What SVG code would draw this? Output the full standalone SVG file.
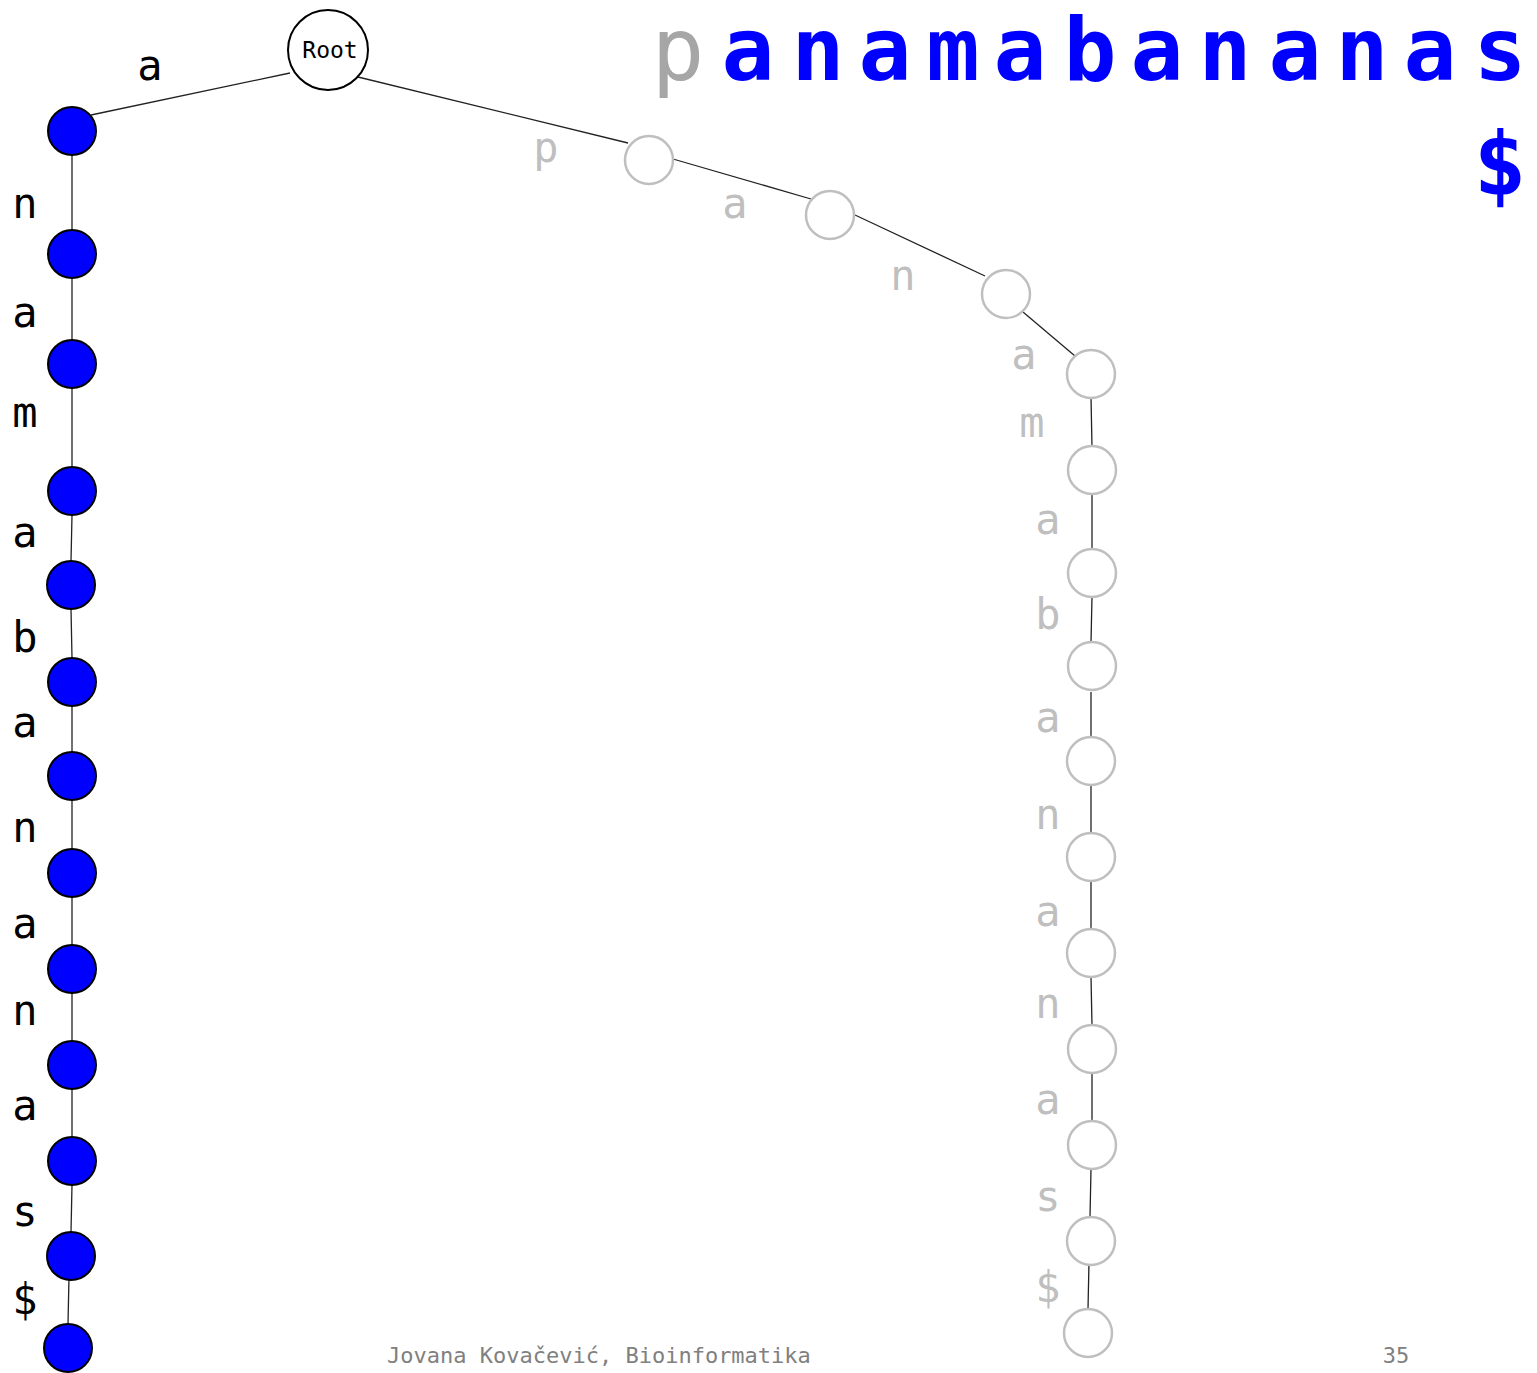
<svg xmlns="http://www.w3.org/2000/svg" width="1537" height="1373" viewBox="0 0 1537 1373">
<style>
.e{stroke:#222;stroke-width:1.3;fill:none}
.b{fill:#0000ff;stroke:#000;stroke-width:2}
.g{fill:#fff;stroke:#bfbfbf;stroke-width:2.5}
.lb{font-family:"DejaVu Sans Mono","Liberation Mono",monospace;font-size:42px;fill:#000;text-anchor:middle}
.lg{font-family:"DejaVu Sans Mono","Liberation Mono",monospace;font-size:42px;fill:#bfbfbf;text-anchor:middle}
.t{font-family:"DejaVu Sans Mono","Liberation Mono",monospace;font-size:88px;font-weight:bold;fill:#0000ff;text-anchor:middle}
.f{font-family:"DejaVu Sans Mono","Liberation Mono",monospace;font-size:22px;fill:#808080}
</style>
<rect width="1537" height="1373" fill="#fff"/>
<g id="title">
<text x="678" y="80" class="t" style="fill:#a6a6a6;font-weight:normal">p</text>
<text y="80" class="t"><tspan x="748">a</tspan><tspan x="818">n</tspan><tspan x="885">a</tspan><tspan x="953">m</tspan><tspan x="1020">a</tspan><tspan x="1090">b</tspan><tspan x="1157">a</tspan><tspan x="1225">n</tspan><tspan x="1295">a</tspan><tspan x="1362">n</tspan><tspan x="1430">a</tspan><tspan x="1500">s</tspan></text>
<text x="1500" y="194" class="t">$</text>
</g>
<g id="connectors">
<line class="e" x1="290" y1="73" x2="91" y2="115"/>
<line class="e" x1="358" y1="77" x2="628" y2="143"/>
<line class="e" x1="673" y1="159" x2="811" y2="199"/>
<line class="e" x1="855" y1="215" x2="985" y2="276"/>
<line class="e" x1="1023" y1="312" x2="1075" y2="356"/>
<line class="e" x1="1091" y1="397" x2="1092" y2="447"/>
<line class="e" x1="1092" y1="494" x2="1092" y2="549"/>
<line class="e" x1="1092" y1="597" x2="1091" y2="642"/>
<line class="e" x1="1091" y1="692" x2="1091" y2="737"/>
<line class="e" x1="1091" y1="785" x2="1091" y2="833"/>
<line class="e" x1="1091" y1="881" x2="1091" y2="929"/>
<line class="e" x1="1091" y1="977" x2="1092" y2="1025"/>
<line class="e" x1="1092" y1="1073" x2="1092" y2="1121"/>
<line class="e" x1="1091" y1="1169" x2="1090" y2="1217"/>
<line class="e" x1="1089" y1="1262" x2="1088" y2="1309"/>
<line class="e" x1="72" y1="155" x2="72" y2="230"/>
<line class="e" x1="72" y1="278" x2="72" y2="340"/>
<line class="e" x1="72" y1="388" x2="72" y2="467"/>
<line class="e" x1="72" y1="515" x2="71" y2="561"/>
<line class="e" x1="71" y1="609" x2="72" y2="658"/>
<line class="e" x1="72" y1="706" x2="72" y2="752"/>
<line class="e" x1="72" y1="800" x2="72" y2="849"/>
<line class="e" x1="72" y1="897" x2="72" y2="945"/>
<line class="e" x1="72" y1="993" x2="72" y2="1041"/>
<line class="e" x1="72" y1="1089" x2="72" y2="1137"/>
<line class="e" x1="72" y1="1185" x2="71" y2="1232"/>
<line class="e" x1="69" y1="1277" x2="68" y2="1324"/>
</g>
<g id="edge-labels">
<text x="150" y="80" class="lb">a</text>
<text x="25" y="218" class="lb">n</text>
<text x="25" y="327" class="lb">a</text>
<text x="25" y="427" class="lb">m</text>
<text x="25" y="547" class="lb">a</text>
<text x="25" y="652" class="lb">b</text>
<text x="25" y="737" class="lb">a</text>
<text x="25" y="842" class="lb">n</text>
<text x="25" y="938" class="lb">a</text>
<text x="25" y="1025" class="lb">n</text>
<text x="25" y="1120" class="lb">a</text>
<text x="25" y="1226" class="lb">s</text>
<text x="25" y="1314" class="lb">$</text>
<text x="546" y="162" class="lg">p</text>
<text x="735" y="218" class="lg">a</text>
<text x="903" y="290" class="lg">n</text>
<text x="1024" y="369" class="lg">a</text>
<text x="1032" y="437" class="lg">m</text>
<text x="1048" y="534" class="lg">a</text>
<text x="1048" y="629" class="lg">b</text>
<text x="1048" y="732" class="lg">a</text>
<text x="1048" y="829" class="lg">n</text>
<text x="1048" y="926" class="lg">a</text>
<text x="1048" y="1018" class="lg">n</text>
<text x="1048" y="1114" class="lg">a</text>
<text x="1048" y="1211" class="lg">s</text>
<text x="1048" y="1302" class="lg">$</text>
</g>
<g id="root"><circle cx="328" cy="50" r="40" fill="#fff" stroke="#000" stroke-width="2"/><text x="330" y="58" style="font-family:'DejaVu Sans Mono','Liberation Mono',monospace;font-size:23px;text-anchor:middle">Root</text></g>
<g id="blue-nodes">
<circle id="b1" class="b" cx="72" cy="131" r="24"/>
<circle id="b2" class="b" cx="72" cy="254" r="24"/>
<circle id="b3" class="b" cx="72" cy="364" r="24"/>
<circle id="b4" class="b" cx="72" cy="491" r="24"/>
<circle id="b5" class="b" cx="71" cy="585" r="24"/>
<circle id="b6" class="b" cx="72" cy="682" r="24"/>
<circle id="b7" class="b" cx="72" cy="776" r="24"/>
<circle id="b8" class="b" cx="72" cy="873" r="24"/>
<circle id="b9" class="b" cx="72" cy="969" r="24"/>
<circle id="b10" class="b" cx="72" cy="1065" r="24"/>
<circle id="b11" class="b" cx="72" cy="1161" r="24"/>
<circle id="b12" class="b" cx="71" cy="1256" r="24"/>
<circle id="b13" class="b" cx="68" cy="1348" r="24"/>
</g>
<g id="gray-nodes">
<circle id="g1" class="g" cx="649" cy="160" r="24"/>
<circle id="g2" class="g" cx="830" cy="215" r="24"/>
<circle id="g3" class="g" cx="1006" cy="294" r="24"/>
<circle id="g4" class="g" cx="1091" cy="374" r="24"/>
<circle id="g5" class="g" cx="1092" cy="470" r="24"/>
<circle id="g6" class="g" cx="1092" cy="573" r="24"/>
<circle id="g7" class="g" cx="1092" cy="666" r="24"/>
<circle id="g8" class="g" cx="1091" cy="761" r="24"/>
<circle id="g9" class="g" cx="1091" cy="857" r="24"/>
<circle id="g10" class="g" cx="1091" cy="953" r="24"/>
<circle id="g11" class="g" cx="1092" cy="1049" r="24"/>
<circle id="g12" class="g" cx="1092" cy="1145" r="24"/>
<circle id="g13" class="g" cx="1091" cy="1241" r="24"/>
<circle id="g14" class="g" cx="1088" cy="1333" r="24"/>
</g>
<g id="footer">
<text x="387" y="1363" class="f">Jovana Kovačević, Bioinformatika</text>
<text x="1396" y="1363" class="f" text-anchor="middle">35</text>
</g>
</svg>
